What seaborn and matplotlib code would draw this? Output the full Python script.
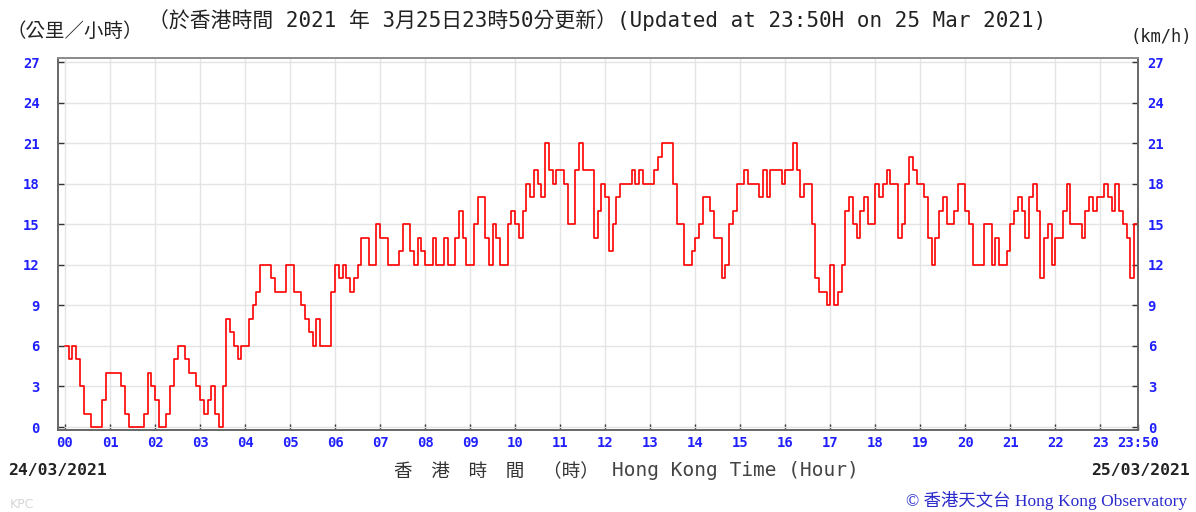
import numpy as np
import pandas as pd
import matplotlib
matplotlib.use("Agg")
import matplotlib.pyplot as plt
import matplotlib.transforms as mtrans
from matplotlib.font_manager import FontProperties
import seaborn as sns

# 10-minute mean wind speed (km/h), sampled every 5 minutes, 24/03/2021 00:00 -> 23:50
speed_00_05 = [
    6, 5, 6, 5, 3, 1, 1, 0, 0, 0, 2, 4,
    4, 4, 4, 3, 1, 0, 0, 0, 0, 1, 4, 3,
    2, 0, 0, 1, 3, 5, 6, 6, 5, 4, 4, 3,
    2, 1, 2, 3, 1, 0, 3, 8, 7, 6, 5, 6,
    6, 8, 9, 10, 12, 12, 12, 11, 10, 10, 10, 12,
    12, 10, 10, 9, 8, 7, 6, 8, 6, 6, 6, 10,
]
speed_06_11 = [
    12, 11, 12, 11, 10, 11, 12, 14, 14, 12, 12, 15,
    14, 14, 12, 12, 12, 13, 15, 15, 13, 12, 14, 13,
    12, 12, 14, 12, 12, 14, 12, 12, 14, 16, 14, 12,
    12, 15, 17, 17, 14, 12, 15, 14, 12, 12, 15, 16,
    15, 14, 16, 18, 17, 19, 18, 17, 21, 19, 18, 19,
    19, 18, 15, 15, 19, 21, 19, 19, 19, 14, 16, 18,
]
speed_12_17 = [
    17, 13, 15, 17, 18, 18, 18, 19, 18, 19, 18, 18,
    18, 19, 20, 21, 21, 21, 18, 15, 15, 12, 12, 13,
    14, 15, 17, 17, 16, 14, 14, 11, 12, 15, 16, 18,
    18, 19, 18, 18, 18, 17, 19, 17, 19, 19, 19, 18,
    19, 19, 21, 19, 17, 18, 18, 15, 11, 10, 10, 9,
    12, 9, 10, 12, 16, 17, 15, 14, 16, 17, 15, 15,
]
speed_18_23 = [
    18, 17, 18, 19, 18, 18, 14, 15, 18, 20, 19, 18,
    18, 17, 14, 12, 14, 16, 17, 15, 15, 16, 18, 18,
    16, 15, 12, 12, 12, 15, 15, 12, 14, 12, 12, 13,
    15, 16, 17, 16, 14, 17, 18, 16, 11, 14, 15, 12,
    14, 14, 16, 18, 15, 15, 15, 14, 16, 17, 16, 17,
    17, 18, 17, 16, 18, 16, 15, 14, 11, 15, 16,
]
step_minutes = 5

hour_ticks = list(range(24)) + [23 + 50 / 60]
hour_labels = [f"{h:02d}" for h in range(24)] + ["23:50"]
speed_ticks = list(range(0, 28, 3))

speed = speed_00_05 + speed_06_11 + speed_12_17 + speed_18_23
df = pd.DataFrame({
    "hour": np.arange(len(speed)) * step_minutes / 60.0,
    "speed": speed,
})

sns.set_theme(style="white")
plt.rcParams["font.family"] = ["DejaVu Sans", "Noto Sans CJK TC"]

W, H = 1196, 512
fig = plt.figure(figsize=(W / 100, H / 100), dpi=100)
ax = fig.add_axes([58 / W, 1 - 430 / H, 1080 / W, 372 / H])

sns.lineplot(data=df, x="hour", y="speed", ax=ax, color="#ff0000",
             linewidth=1.2, drawstyle="steps-post", estimator=None)

ax.set_xlim(-0.155, 23 + 50 / 60)
ax.set_ylim(-0.22, 27.3)
ax.set_xlabel("")
ax.set_ylabel("")

ax.set_xticks(hour_ticks)
ax.set_xticklabels(hour_labels)
ax.set_yticks(speed_ticks)
ax.set_yticklabels([str(v) for v in speed_ticks])

ax.grid(True, color="#e4e4e4", linewidth=1.0)
ax.set_axisbelow(True)

tick_font = dict(family="DejaVu Sans Mono", weight="bold", size=10)
tick_blue = "#2020ff"

ax.tick_params(axis="x", direction="in", length=4, width=1, color="#333333",
               pad=4, bottom=True)
ax.tick_params(axis="y", direction="in", length=4, width=1, color="#333333",
               left=True, right=True, labelleft=True, labelright=True, pad=13)

for t in ax.xaxis.get_major_ticks():
    t.label1.set_fontproperties(FontProperties(**tick_font))
    t.label1.set_color(tick_blue)

# right-hand labels sit closer to the frame than left-hand ones
offset_right = mtrans.ScaledTranslation(-6 / 72, 0, fig.dpi_scale_trans)
for t in ax.yaxis.get_major_ticks():
    for lab in (t.label1, t.label2):
        lab.set_fontproperties(FontProperties(**tick_font))
        lab.set_color(tick_blue)
    t.label2.set_transform(t.label2.get_transform() + offset_right)

for side in ["left", "right", "top", "bottom"]:
    ax.spines[side].set_color("#666666")
    ax.spines[side].set_linewidth(1.4)
    ax.spines[side].set_visible(True)
ax.spines["top"].set_color("#8a8a8a")


def px(x, y):
    return x / W, 1 - y / H


cjk = ["Noto Sans CJK TC"]
mono_cjk = ["DejaVu Sans Mono", "Noto Sans CJK TC"]

fig.text(*px(6, 31), "（公里／小時）", ha="left", va="center", fontsize=14,
         family=cjk, color="#222222")
fig.text(*px(148, 20),
         "（於香港時間 2021 年 3月25日23時50分更新）(Updated at 23:50H on 25 Mar 2021)",
         ha="left", va="center", fontsize=15, family=mono_cjk, color="#222222")
fig.text(*px(1192, 37), "(km/h)", ha="right", va="center", fontsize=12.3,
         family="DejaVu Sans Mono", color="#222222")

fig.text(*px(8, 470), "24/03/2021", ha="left", va="center", fontsize=11.8,
         family="DejaVu Sans Mono", weight="bold", color="#222222")
fig.text(*px(1190, 470), "25/03/2021", ha="right", va="center", fontsize=11.8,
         family="DejaVu Sans Mono", weight="bold", color="#222222")
fig.text(*px(394, 472), "香　港　時　間　（時）", ha="left", va="center",
         fontsize=13.4, family=cjk, color="#333333")
fig.text(*px(612, 471), "Hong Kong Time (Hour)", ha="left", va="center",
         fontsize=14, family="DejaVu Sans Mono", color="#444444")

fig.text(*px(10, 505), "KPC", ha="left", va="center", fontsize=9,
         family="DejaVu Sans", color="#d6d6d6")
fig.text(*px(1187, 500), "© 香港天文台 Hong Kong Observatory", ha="right",
         va="center", fontsize=12.5, family=["Liberation Serif", "Noto Sans CJK TC"],
         color="#2a2acc")

fig.savefig("out.png", dpi=100)
